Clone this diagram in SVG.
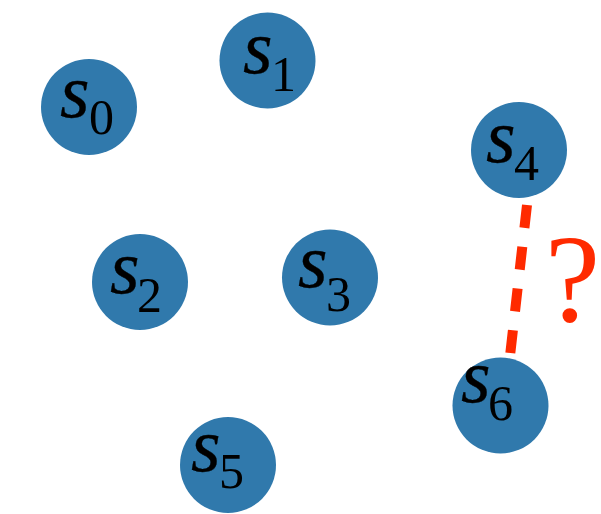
<svg xmlns="http://www.w3.org/2000/svg" width="601" height="514" viewBox="0 0 601 514">
<style>
.n{fill:#3079ac}
.s{font-family:"Liberation Serif","Times New Roman",serif;font-style:italic;font-size:76px;fill:#000;stroke:#000;stroke-width:0.3}
.d{font-family:"Liberation Serif","Times New Roman",serif;font-size:50px;fill:#000}
.e{stroke:#ff2a00;stroke-width:10;stroke-dasharray:23 19;fill:none}
.q{font-family:"Liberation Serif","Times New Roman",serif;font-size:124px;fill:#ff2a00}
</style>
<rect width="601" height="514" fill="#fff"/>
<g id="connectors">
<line class="e" x1="527" y1="205" x2="510" y2="356"/>
<text class="q" x="545" y="321">?</text>
</g>
<g id="s0"><circle class="n" cx="89" cy="107" r="48"/><text class="s" x="60" y="117">s</text><text class="d" x="89" y="134">0</text></g>
<g id="s1"><circle class="n" cx="267.5" cy="60.5" r="48"/><text class="s" x="243" y="73">s</text><text class="d" x="271" y="91">1</text></g>
<g id="s4"><circle class="n" cx="519" cy="150" r="48"/><text class="s" x="486" y="162">s</text><text class="d" x="514" y="180">4</text></g>
<g id="s2"><circle class="n" cx="140" cy="282" r="48"/><text class="s" x="110" y="293">s</text><text class="d" x="137" y="312">2</text></g>
<g id="s3"><circle class="n" cx="330" cy="277.5" r="48"/><text class="s" x="298" y="287">s</text><text class="d" x="326" y="311">3</text></g>
<g id="s6"><circle class="n" cx="500.5" cy="405.5" r="48"/><text class="s" x="461" y="402">s</text><text class="d" x="488" y="420">6</text></g>
<g id="s5"><circle class="n" cx="228" cy="465" r="48"/><text class="s" x="191" y="471">s</text><text class="d" x="219" y="488">5</text></g>
</svg>
